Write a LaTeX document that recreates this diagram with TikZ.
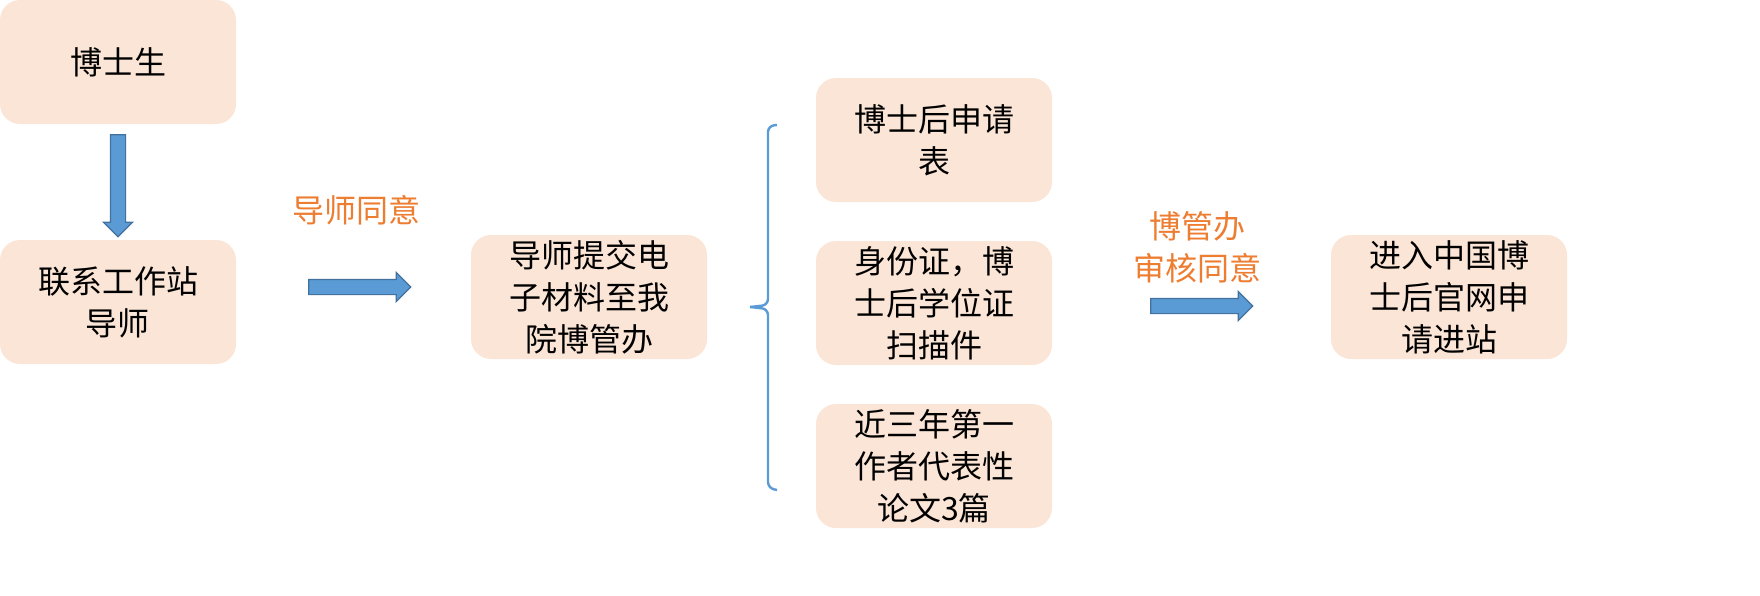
\documentclass[tikz,border=0pt]{standalone}
\usepackage{fontspec}
\setmainfont{Noto Sans CJK SC}
\usetikzlibrary{shapes.arrows}
\definecolor{boxfill}{HTML}{FBE5D6}
\definecolor{arrfill}{HTML}{5B9BD5}
\definecolor{arrline}{HTML}{41719C}
\definecolor{txtorange}{HTML}{ED7D31}
\tikzset{
  stepbox/.style={fill=boxfill, rounded corners=10pt, minimum width=118pt, minimum height=62pt,
    align=center, inner sep=0pt, font=\fontsize{16}{21}\selectfont},
  bluearrow/.style={single arrow, fill=arrfill, draw=arrline, line width=0.6pt,
    minimum height=51pt, single arrow head extend=3.5pt, minimum width=14pt, inner sep=3.5pt},
  orangetext/.style={text=txtorange, align=center, font=\fontsize{16}{21}\selectfont}
}
\begin{document}
\begin{tikzpicture}[x=0.5pt,y=-0.5pt]
		\useasboundingbox (0,0) rectangle (1760,595);
		% left column
		\node[stepbox] (phd) at (118,62) {博士生};
		\node[stepbox] (tutor) at (118,302) {联系工作站\\导师};
		\node[bluearrow, rotate=-90] (down) at (118,182) {};
		% submission
		\node[orangetext] (agree) at (356,210) {导师同意};
		\node[bluearrow] (go1) at (356,287) {};
		\node[stepbox] (submit) at (589,297) {导师提交电\\子材料至我\\院博管办};
		% materials
		\draw[arrfill, line width=1.2pt, rounded corners=3pt]
			(777,125) -- (768,126) -- (768,305) -- (750,307);
		\draw[arrfill, line width=1.2pt, rounded corners=3pt]
			(750,307) -- (768,309) -- (768,488) -- (777,490);
		\node[stepbox] (form) at (934,140) {博士后申请\\表};
		\node[stepbox] (idcard) at (934,303) {身份证，博\\士后学位证\\扫描件};
		\node[stepbox] (papers) at (934,466) {近三年第一\\作者代表性\\论文3篇};
		% approval
		\node[orangetext] (office) at (1197,247) {博管办\\审核同意};
		\node[bluearrow] (go2) at (1198,306) {};
		\node[stepbox] (enter) at (1449,297) {进入中国博\\士后官网申\\请进站};
	\end{tikzpicture}
\end{document}
